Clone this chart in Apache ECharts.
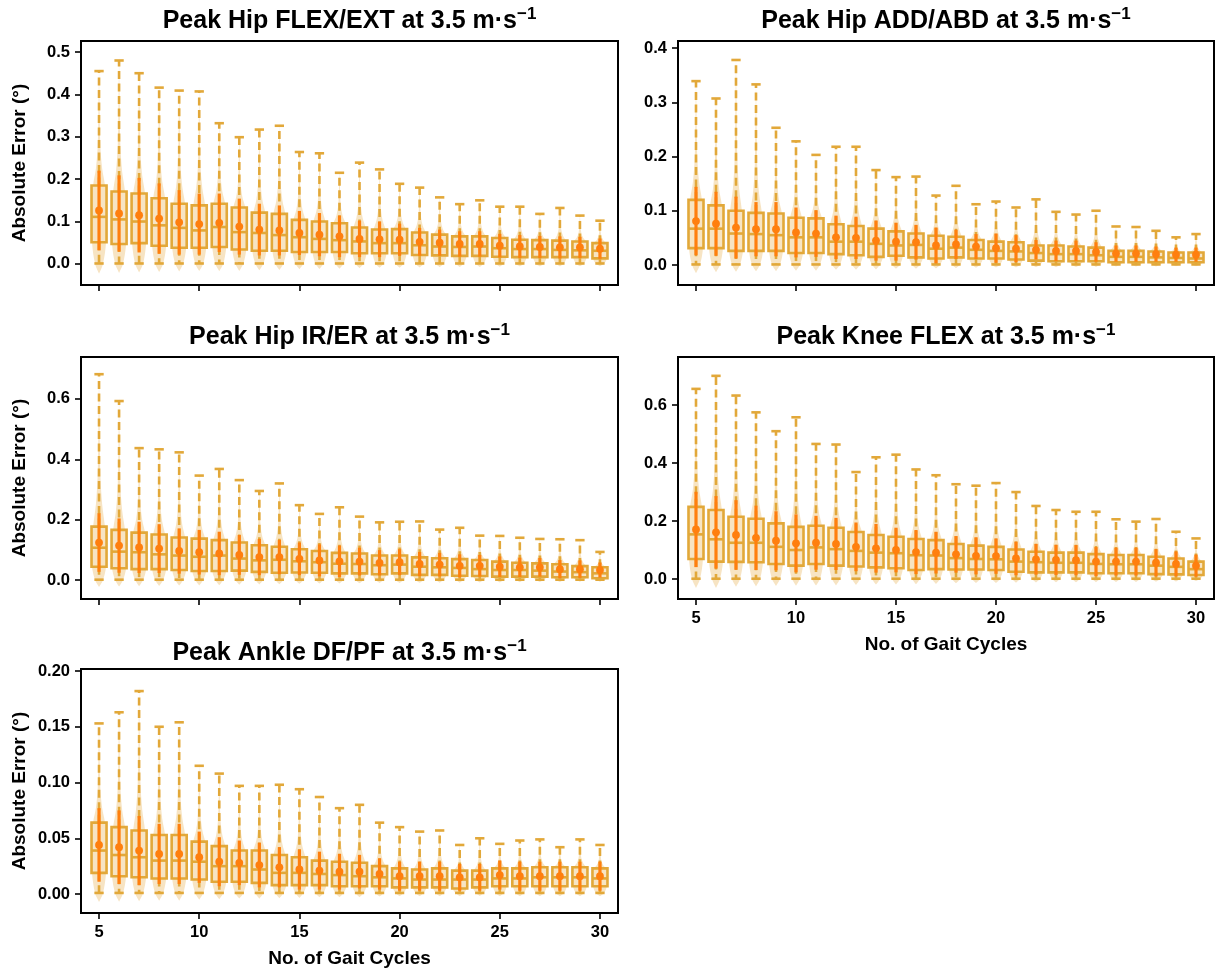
<!DOCTYPE html>
<html>
<head>
<meta charset="utf-8">
<script src="https://cdn.jsdelivr.net/npm/echarts@6/dist/echarts.min.js"></script>
<style>
  html, body { margin: 0; padding: 0; background: #fff; }
  #chart { width: 1215px; height: 971px; }
</style>
</head>
<body>
<div id="chart"></div>
<script>
// Number of gait cycles used for each estimate
const gaitCycles = [5, 6, 7, 8, 9, 10, 11, 12, 13, 14, 15, 16, 17, 18, 19, 20, 21, 22, 23, 24, 25, 26, 27, 28, 29, 30];
const xTickValues = [5, 10, 15, 20, 25, 30];

// Peak Hip FLEX/EXT
const hipFlexMin = [0.001, 0.001, 0.001, 0.001, 0.001, 0.001, 0.001, 0.001, 0.001, 0.001, 0.001, 0.001, 0.001, 0.001, 0.001, 0.001, 0.001, 0.001, 0.001, 0.001, 0.001, 0.001, 0.001, 0.001, 0.001, 0.001];
const hipFlexQ1 = [0.051, 0.047, 0.049, 0.043, 0.038, 0.038, 0.040, 0.034, 0.031, 0.031, 0.028, 0.028, 0.028, 0.025, 0.025, 0.025, 0.021, 0.020, 0.019, 0.019, 0.017, 0.016, 0.016, 0.016, 0.016, 0.013];
const hipFlexMedian = [0.111, 0.105, 0.100, 0.091, 0.085, 0.079, 0.087, 0.075, 0.073, 0.068, 0.063, 0.059, 0.056, 0.053, 0.049, 0.049, 0.044, 0.041, 0.040, 0.041, 0.037, 0.035, 0.035, 0.033, 0.032, 0.031];
const hipFlexQ3 = [0.185, 0.171, 0.166, 0.155, 0.142, 0.138, 0.142, 0.133, 0.121, 0.118, 0.104, 0.100, 0.096, 0.086, 0.081, 0.082, 0.074, 0.069, 0.065, 0.065, 0.061, 0.057, 0.056, 0.055, 0.053, 0.049];
const hipFlexMax = [0.455, 0.480, 0.450, 0.416, 0.409, 0.407, 0.332, 0.299, 0.317, 0.326, 0.264, 0.261, 0.215, 0.239, 0.223, 0.189, 0.180, 0.157, 0.141, 0.150, 0.135, 0.135, 0.118, 0.132, 0.114, 0.102];
const hipFlexMean = [0.126, 0.119, 0.115, 0.107, 0.098, 0.094, 0.097, 0.088, 0.081, 0.079, 0.073, 0.069, 0.065, 0.059, 0.058, 0.057, 0.052, 0.050, 0.047, 0.047, 0.043, 0.041, 0.040, 0.039, 0.039, 0.036];
const hipFlexSd = [0.094, 0.090, 0.088, 0.083, 0.076, 0.072, 0.069, 0.066, 0.061, 0.059, 0.052, 0.051, 0.049, 0.043, 0.042, 0.038, 0.033, 0.031, 0.030, 0.030, 0.028, 0.027, 0.026, 0.026, 0.025, 0.024];

// Peak Hip ADD/ABD
const hipAddMin = [0.001, 0.001, 0.001, 0.001, 0.001, 0.001, 0.001, 0.001, 0.001, 0.001, 0.001, 0.001, 0.001, 0.001, 0.001, 0.001, 0.001, 0.001, 0.001, 0.001, 0.001, 0.001, 0.001, 0.001, 0.001, 0.001];
const hipAddQ1 = [0.031, 0.031, 0.026, 0.026, 0.026, 0.022, 0.022, 0.020, 0.018, 0.015, 0.017, 0.014, 0.012, 0.014, 0.012, 0.012, 0.010, 0.008, 0.007, 0.007, 0.007, 0.005, 0.005, 0.005, 0.005, 0.005];
const hipAddMedian = [0.067, 0.067, 0.058, 0.057, 0.055, 0.051, 0.051, 0.043, 0.043, 0.039, 0.036, 0.037, 0.030, 0.032, 0.028, 0.026, 0.025, 0.022, 0.020, 0.020, 0.018, 0.015, 0.015, 0.014, 0.013, 0.012];
const hipAddQ3 = [0.120, 0.110, 0.100, 0.096, 0.095, 0.087, 0.086, 0.075, 0.072, 0.067, 0.062, 0.058, 0.054, 0.052, 0.046, 0.043, 0.042, 0.036, 0.036, 0.034, 0.032, 0.026, 0.026, 0.025, 0.023, 0.023];
const hipAddMax = [0.339, 0.307, 0.378, 0.333, 0.253, 0.228, 0.203, 0.218, 0.218, 0.175, 0.162, 0.163, 0.128, 0.146, 0.112, 0.117, 0.106, 0.121, 0.098, 0.093, 0.100, 0.071, 0.070, 0.063, 0.051, 0.057];
const hipAddMean = [0.081, 0.076, 0.069, 0.066, 0.066, 0.060, 0.058, 0.051, 0.050, 0.045, 0.043, 0.042, 0.036, 0.038, 0.034, 0.031, 0.030, 0.028, 0.026, 0.026, 0.024, 0.021, 0.021, 0.020, 0.019, 0.019];
const hipAddSd = [0.063, 0.059, 0.057, 0.050, 0.050, 0.046, 0.043, 0.040, 0.039, 0.037, 0.035, 0.032, 0.033, 0.027, 0.023, 0.027, 0.025, 0.018, 0.019, 0.019, 0.018, 0.015, 0.015, 0.014, 0.013, 0.013];

// Peak Hip IR/ER
const hipRotMin = [0.001, 0.001, 0.001, 0.001, 0.001, 0.001, 0.001, 0.001, 0.001, 0.001, 0.001, 0.001, 0.001, 0.001, 0.001, 0.001, 0.001, 0.001, 0.001, 0.001, 0.001, 0.001, 0.001, 0.001, 0.001, 0.001];
const hipRotQ1 = [0.044, 0.039, 0.036, 0.036, 0.033, 0.030, 0.030, 0.031, 0.027, 0.024, 0.025, 0.024, 0.022, 0.022, 0.019, 0.022, 0.017, 0.017, 0.014, 0.013, 0.011, 0.011, 0.011, 0.009, 0.009, 0.006];
const hipRotMedian = [0.107, 0.094, 0.092, 0.085, 0.081, 0.077, 0.081, 0.071, 0.065, 0.067, 0.062, 0.059, 0.054, 0.053, 0.049, 0.051, 0.044, 0.042, 0.040, 0.036, 0.033, 0.033, 0.031, 0.028, 0.026, 0.022];
const hipRotQ3 = [0.177, 0.166, 0.157, 0.151, 0.141, 0.137, 0.132, 0.124, 0.115, 0.110, 0.102, 0.096, 0.090, 0.088, 0.081, 0.081, 0.075, 0.072, 0.069, 0.066, 0.061, 0.057, 0.055, 0.052, 0.046, 0.042];
const hipRotMax = [0.682, 0.593, 0.437, 0.433, 0.423, 0.346, 0.368, 0.331, 0.295, 0.320, 0.248, 0.219, 0.241, 0.210, 0.191, 0.193, 0.194, 0.167, 0.173, 0.147, 0.146, 0.140, 0.136, 0.135, 0.132, 0.093];
const hipRotMean = [0.124, 0.114, 0.108, 0.104, 0.096, 0.092, 0.088, 0.083, 0.076, 0.076, 0.070, 0.065, 0.062, 0.061, 0.057, 0.059, 0.053, 0.051, 0.047, 0.047, 0.044, 0.042, 0.042, 0.036, 0.036, 0.033];
const hipRotSd = [0.097, 0.090, 0.085, 0.081, 0.075, 0.074, 0.072, 0.066, 0.060, 0.057, 0.054, 0.053, 0.052, 0.046, 0.042, 0.043, 0.040, 0.039, 0.038, 0.036, 0.034, 0.032, 0.031, 0.030, 0.029, 0.025];

// Peak Knee FLEX
const kneeFlexMin = [0.001, 0.001, 0.001, 0.001, 0.001, 0.001, 0.001, 0.001, 0.001, 0.001, 0.001, 0.001, 0.001, 0.001, 0.001, 0.001, 0.001, 0.001, 0.001, 0.001, 0.001, 0.001, 0.001, 0.001, 0.001, 0.001];
const kneeFlexQ1 = [0.069, 0.060, 0.059, 0.058, 0.052, 0.046, 0.052, 0.046, 0.043, 0.040, 0.037, 0.031, 0.034, 0.033, 0.033, 0.031, 0.025, 0.023, 0.023, 0.023, 0.020, 0.020, 0.020, 0.017, 0.016, 0.014];
const kneeFlexMedian = [0.154, 0.137, 0.125, 0.125, 0.111, 0.100, 0.109, 0.103, 0.097, 0.091, 0.089, 0.082, 0.081, 0.072, 0.069, 0.068, 0.060, 0.058, 0.056, 0.056, 0.052, 0.051, 0.051, 0.046, 0.042, 0.034];
const kneeFlexQ3 = [0.249, 0.238, 0.215, 0.208, 0.192, 0.180, 0.184, 0.177, 0.162, 0.152, 0.146, 0.138, 0.134, 0.121, 0.115, 0.111, 0.102, 0.094, 0.091, 0.091, 0.086, 0.083, 0.083, 0.077, 0.071, 0.060];
const kneeFlexMax = [0.656, 0.701, 0.633, 0.575, 0.510, 0.558, 0.466, 0.464, 0.369, 0.420, 0.429, 0.378, 0.358, 0.327, 0.322, 0.331, 0.300, 0.252, 0.238, 0.232, 0.232, 0.206, 0.198, 0.207, 0.163, 0.140];
const kneeFlexMean = [0.171, 0.161, 0.152, 0.142, 0.132, 0.123, 0.125, 0.121, 0.111, 0.106, 0.100, 0.093, 0.091, 0.085, 0.080, 0.079, 0.071, 0.068, 0.066, 0.065, 0.060, 0.060, 0.060, 0.056, 0.052, 0.046];
const kneeFlexSd = [0.130, 0.125, 0.120, 0.111, 0.102, 0.100, 0.093, 0.090, 0.084, 0.084, 0.077, 0.076, 0.072, 0.063, 0.064, 0.061, 0.058, 0.053, 0.052, 0.052, 0.050, 0.048, 0.048, 0.047, 0.043, 0.038];

// Peak Ankle DF/PF
const ankleMin = [0.001, 0.001, 0.001, 0.001, 0.001, 0.001, 0.001, 0.001, 0.001, 0.001, 0.001, 0.001, 0.001, 0.001, 0.001, 0.001, 0.001, 0.001, 0.001, 0.001, 0.001, 0.001, 0.001, 0.001, 0.001, 0.001];
const ankleQ1 = [0.019, 0.016, 0.015, 0.014, 0.014, 0.013, 0.011, 0.011, 0.010, 0.008, 0.008, 0.008, 0.007, 0.007, 0.007, 0.006, 0.006, 0.006, 0.005, 0.006, 0.007, 0.007, 0.007, 0.007, 0.007, 0.007];
const ankleMedian = [0.039, 0.035, 0.033, 0.030, 0.030, 0.029, 0.025, 0.025, 0.022, 0.019, 0.019, 0.018, 0.017, 0.016, 0.015, 0.014, 0.013, 0.013, 0.013, 0.013, 0.014, 0.014, 0.015, 0.015, 0.015, 0.014];
const ankleQ3 = [0.064, 0.060, 0.057, 0.053, 0.053, 0.047, 0.043, 0.039, 0.039, 0.035, 0.033, 0.030, 0.029, 0.028, 0.025, 0.023, 0.022, 0.023, 0.021, 0.021, 0.023, 0.023, 0.024, 0.024, 0.024, 0.023];
const ankleMax = [0.153, 0.163, 0.182, 0.150, 0.154, 0.115, 0.108, 0.097, 0.097, 0.098, 0.094, 0.087, 0.077, 0.080, 0.064, 0.060, 0.056, 0.057, 0.044, 0.050, 0.045, 0.048, 0.049, 0.042, 0.049, 0.044];
const ankleMean = [0.044, 0.042, 0.039, 0.036, 0.036, 0.033, 0.029, 0.028, 0.026, 0.024, 0.022, 0.021, 0.020, 0.020, 0.018, 0.016, 0.016, 0.016, 0.015, 0.015, 0.017, 0.016, 0.016, 0.016, 0.016, 0.016];
const ankleSd = [0.033, 0.033, 0.031, 0.027, 0.027, 0.023, 0.022, 0.020, 0.020, 0.018, 0.018, 0.017, 0.016, 0.015, 0.014, 0.013, 0.013, 0.013, 0.012, 0.012, 0.013, 0.013, 0.013, 0.013, 0.013, 0.013];

// Y tick labels per panel
const yTicksHipFlex = [0.0, 0.1, 0.2, 0.3, 0.4, 0.5];
const yTicksHipAdd = [0.0, 0.1, 0.2, 0.3, 0.4];
const yTicksHipRot = [0.0, 0.2, 0.4, 0.6];
const yTicksKnee = [0.0, 0.2, 0.4, 0.6];
const yTicksAnkle = [0.00, 0.05, 0.10, 0.15, 0.20];

const FONT = '"Liberation Sans", Arial, sans-serif';
const BOX_EDGE = '#E2A839';
const VIOLIN_FILL = '#F7E4C3';
const MEAN_COLOR = '#FF7F0E';
const BOX_WIDTH = 0.75;

const panels = [
  { title: 'Peak Hip FLEX/EXT at 3.5 m·s',
    stats: [hipFlexMin, hipFlexQ1, hipFlexMedian, hipFlexQ3, hipFlexMax, hipFlexMean, hipFlexSd],
    yTicks: yTicksHipFlex, digits: 1, yMin: -0.0498, yMax: 0.526,
    grid: { left: 81, top: 41, width: 537, height: 244 }, titleY: 6, xLabels: false, xName: false, yName: true },
  { title: 'Peak Hip ADD/ABD at 3.5 m·s',
    stats: [hipAddMin, hipAddQ1, hipAddMedian, hipAddQ3, hipAddMax, hipAddMean, hipAddSd],
    yTicks: yTicksHipAdd, digits: 1, yMin: -0.0369, yMax: 0.413,
    grid: { left: 678, top: 41, width: 536, height: 244 }, titleY: 6, xLabels: false, xName: false, yName: false },
  { title: 'Peak Hip IR/ER at 3.5 m·s',
    stats: [hipRotMin, hipRotQ1, hipRotMedian, hipRotQ3, hipRotMax, hipRotMean, hipRotSd],
    yTicks: yTicksHipRot, digits: 1, yMin: -0.063, yMax: 0.739,
    grid: { left: 81, top: 357, width: 537, height: 242 }, titleY: 322, xLabels: false, xName: false, yName: true },
  { title: 'Peak Knee FLEX at 3.5 m·s',
    stats: [kneeFlexMin, kneeFlexQ1, kneeFlexMedian, kneeFlexQ3, kneeFlexMax, kneeFlexMean, kneeFlexSd],
    yTicks: yTicksKnee, digits: 1, yMin: -0.069, yMax: 0.766,
    grid: { left: 678, top: 357, width: 536, height: 242 }, titleY: 322, xLabels: true, xName: true, yName: false },
  { title: 'Peak Ankle DF/PF at 3.5 m·s',
    stats: [ankleMin, ankleQ1, ankleMedian, ankleQ3, ankleMax, ankleMean, ankleSd],
    yTicks: yTicksAnkle, digits: 2, yMin: -0.017, yMax: 0.2018,
    grid: { left: 81, top: 669, width: 537, height: 244 }, titleY: 638, xLabels: true, xName: true, yName: true }
];

// Violin + box + whiskers + mean ± SD for one gait-cycle count
function renderDistribution(params, api) {
  const x = api.value(0);
  const lo = api.value(1), q1 = api.value(2), med = api.value(3), q3 = api.value(4);
  const hi = api.value(5), mean = api.value(6), sd = api.value(7);
  const half = api.size([BOX_WIDTH, 0])[0] / 2;
  const cx = api.coord([x, med])[0];
  const py = v => api.coord([x, v])[1];

  const iqr = q3 - q1, up = hi - q3;
  const profile = [
    [lo - 0.18 * iqr, 0], [lo, 0.55], [q1, 0.95], [med, 1.0], [q3, 0.8],
    [q3 + 0.15 * up, 0.42], [q3 + 0.35 * up, 0.18], [q3 + 0.7 * up, 0.07], [hi + 0.04 * up, 0]
  ];
  const vw = half * 0.98;
  const pts = [];
  profile.forEach(p => pts.push([cx + p[1] * vw, py(p[0])]));
  for (let k = profile.length - 1; k >= 0; k--) pts.push([cx - profile[k][1] * vw, py(profile[k][0])]);

  const yQ1 = py(q1), yQ3 = py(q3), yMed = py(med), yLo = py(lo), yHi = py(hi);
  const capHalf = half * 0.62;
  const whisker = { stroke: BOX_EDGE, lineWidth: 2.6, lineDash: [8, 4.5] };
  const solid = { stroke: BOX_EDGE, lineWidth: 2.6 };

  return {
    type: 'group',
    children: [
      { type: 'polygon', shape: { points: pts, smooth: 0.35 }, style: { fill: VIOLIN_FILL } },
      { type: 'rect', shape: { x: cx - half, y: yQ3, width: 2 * half, height: yQ1 - yQ3 },
        style: { fill: VIOLIN_FILL, stroke: BOX_EDGE, lineWidth: 2.6 } },
      { type: 'line', shape: { x1: cx - half, y1: yMed, x2: cx + half, y2: yMed }, style: solid },
      { type: 'line', shape: { x1: cx, y1: yQ3, x2: cx, y2: yHi }, style: whisker },
      { type: 'line', shape: { x1: cx, y1: yQ1, x2: cx, y2: yLo }, style: whisker },
      { type: 'line', shape: { x1: cx - capHalf, y1: yHi, x2: cx + capHalf, y2: yHi }, style: solid },
      { type: 'line', shape: { x1: cx - capHalf, y1: yLo, x2: cx + capHalf, y2: yLo }, style: solid },
      { type: 'line', shape: { x1: cx, y1: py(mean - sd), x2: cx, y2: py(mean + sd) },
        style: { stroke: MEAN_COLOR, lineWidth: 3.2 } },
      { type: 'circle', shape: { cx: cx, cy: py(mean), r: 3.9 }, style: { fill: MEAN_COLOR } }
    ]
  };
}

const axisText = { color: '#000', fontFamily: FONT, fontWeight: 'bold', fontSize: 16.5 };
const nameText = { color: '#000', fontFamily: FONT, fontWeight: 'bold', fontSize: 19 };

const option = {
  animation: false,
  backgroundColor: '#fff',
  title: panels.map(p => ({
    text: '{main|' + p.title + '}{sup|−1}',
    left: p.grid.left + p.grid.width / 2,
    top: p.titleY,
    textAlign: 'center',
    padding: 0,
    textStyle: {
      rich: {
        main: { fontFamily: FONT, fontWeight: 'bold', fontSize: 25, color: '#000', lineHeight: 30 },
        sup: { fontFamily: FONT, fontWeight: 'bold', fontSize: 17, color: '#000', verticalAlign: 'top', lineHeight: 16 }
      }
    }
  })),
  grid: panels.map(p => Object.assign({
    show: true, borderColor: '#000', borderWidth: 2, backgroundColor: 'transparent', containLabel: false
  }, p.grid)),
  xAxis: panels.map((p, i) => ({
    type: 'value', gridIndex: i, min: 4.1, max: 30.9,
    name: p.xName ? 'No. of Gait Cycles' : '',
    nameLocation: 'middle', nameGap: 36, nameTextStyle: nameText,
    axisLine: { show: true, onZero: false, lineStyle: { color: '#000', width: 2 } },
    axisTick: { show: true, customValues: xTickValues, length: 6, lineStyle: { color: '#000', width: 1.6 } },
    axisLabel: { show: p.xLabels, customValues: xTickValues, margin: 11, ...axisText },
    splitLine: { show: false }
  })),
  yAxis: panels.map((p, i) => ({
    type: 'value', gridIndex: i, min: p.yMin, max: p.yMax,
    name: p.yName ? 'Absolute Error (°)' : '',
    nameLocation: 'middle', nameGap: 52, nameTextStyle: nameText,
    axisLine: { show: true, onZero: false, lineStyle: { color: '#000', width: 2 } },
    axisTick: { show: true, customValues: p.yTicks, length: 6, lineStyle: { color: '#000', width: 1.6 } },
    axisLabel: { customValues: p.yTicks, margin: 11, formatter: v => v.toFixed(p.digits), ...axisText },
    splitLine: { show: false }
  })),
  series: panels.map((p, i) => ({
    type: 'custom',
    xAxisIndex: i, yAxisIndex: i,
    renderItem: renderDistribution,
    encode: { x: 0, y: [1, 2, 3, 4, 5] },
    data: gaitCycles.map((c, k) => [c].concat(p.stats.map(s => s[k])))
  }))
};

const chart = echarts.init(document.getElementById('chart'), null, { renderer: 'canvas' });
chart.setOption(option);
</script>
</body>
</html>
